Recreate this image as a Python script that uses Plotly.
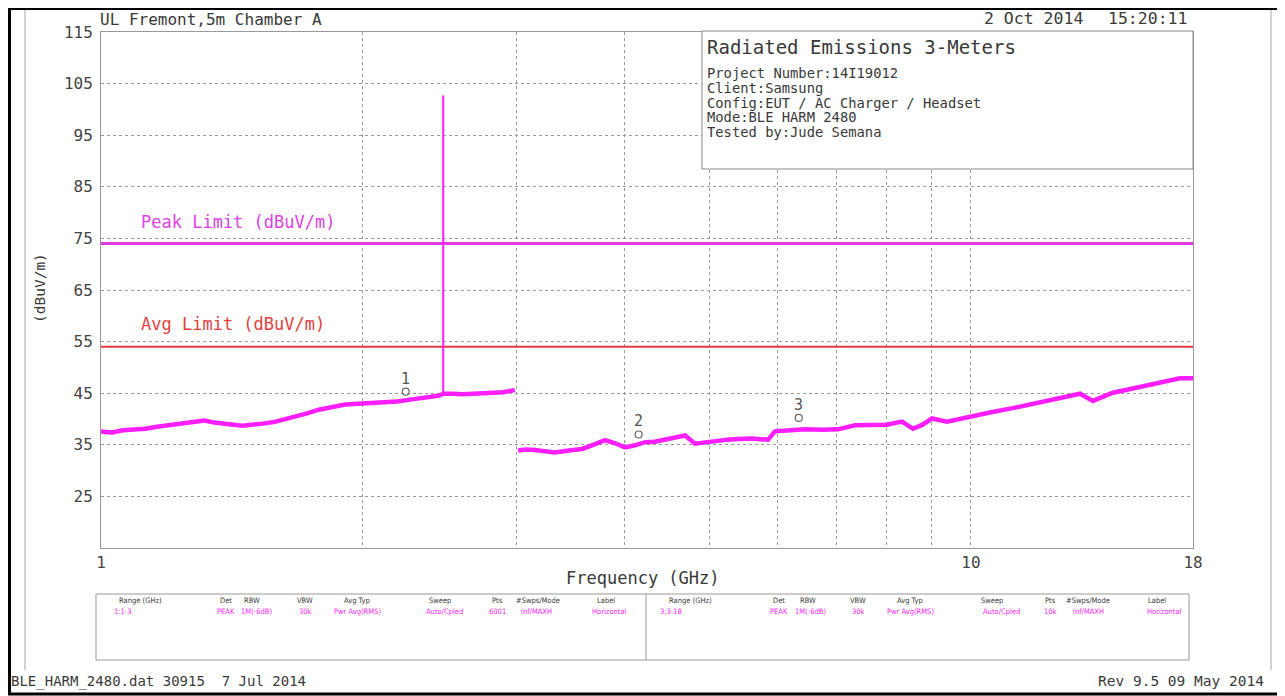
import math
import plotly.graph_objects as go

# ---------------- data ----------------
seg1_freq = [1.000, 1.030, 1.060, 1.090, 1.124, 1.160, 1.200, 1.240, 1.282, 1.315,
             1.350, 1.385, 1.420, 1.455, 1.491, 1.535, 1.580, 1.625, 1.671, 1.725,
             1.780, 1.840, 1.908, 1.995, 2.050, 2.100, 2.190, 2.278, 2.340, 2.400,
             2.440, 2.470, 2.478, 2.540, 2.600, 2.680, 2.750, 2.830, 2.900, 2.990]
seg1_level = [37.6, 37.4, 37.8, 37.9, 38.1, 38.5, 38.8, 39.0, 39.5, 39.7,
              39.3, 39.2, 38.9, 38.7, 38.8, 39.1, 39.4, 39.9, 40.5, 41.1,
              41.8, 42.2, 42.8, 43.0, 43.1, 43.3, 43.4, 43.8, 44.0, 44.3,
              44.5, 44.8, 44.9, 44.9, 44.8, 44.9, 45.0, 45.0, 45.2, 45.6]

spike_freq = [2.474, 2.474]
spike_level = [44.9, 102.7]

seg2_freq = [3.016, 3.080, 3.150, 3.240, 3.325, 3.450, 3.572, 3.680, 3.796, 3.900,
             4.003, 4.110, 4.221, 4.330, 4.450, 4.570, 4.692, 4.818, 4.950, 5.100,
             5.250, 5.398, 5.600, 5.845, 5.954, 6.200, 6.446, 6.750, 7.032, 7.357,
             7.694, 8.000, 8.332, 8.579, 8.800, 9.020, 9.385, 9.970, 10.55, 11.17,
             11.85, 12.56, 13.35, 13.81, 14.56, 15.25, 15.93, 16.65, 17.39, 18.00]
seg2_level = [33.9, 34.1, 34.0, 33.7, 33.5, 33.9, 34.2, 35.0, 35.9, 35.3,
              34.5, 34.9, 35.5, 35.6, 36.0, 36.3, 36.8, 35.2, 35.5, 35.8,
              36.0, 36.1, 36.2, 36.0, 37.6, 37.8, 38.0, 37.9, 38.0, 38.8,
              38.8, 38.9, 39.5, 38.1, 38.9, 40.1, 39.5, 40.5, 41.3, 42.1,
              43.0, 44.1, 44.9, 43.5, 45.1, 45.8, 46.5, 47.0, 47.9, 47.9]

limit_freq = [1, 18]
peak_limit = [74, 74]
avg_limit = [54, 54]

marker_freq = [2.24, 4.15, 6.34]
marker_level = [45.3, 37.0, 40.2]
marker_label = ["1", "2", "3"]

x_tickvals = [1, 2, 3, 4, 5, 6, 7, 8, 9, 10, 18]
x_ticktext = ["1", "", "", "", "", "", "", "", "", "10", "18"]
y_tickvals = [15, 25, 35, 45, 55, 65, 75, 85, 95, 105, 115]
y_ticktext = ["", "25", "35", "45", "55", "65", "75", "85", "95", "105", "115"]

info_title = "Radiated Emissions 3-Meters"
info_lines = ["Project Number:14I19012", "Client:Samsung",
              "Config:EUT / AC Charger / Headset", "Mode:BLE HARM 2480",
              "Tested by:Jude Semana"]

table_headers = ["Range (GHz)", "Det", "RBW", "VBW", "Avg Typ", "Sweep", "Pts",
                 "#Swps/Mode", "Label"]
table_row1 = ["1:1-3", "PEAK", "1M(-6dB)", "30k", "Pwr Avg(RMS)", "Auto/Cpled",
              "6001", "Inf/MAXH", "Horizontal"]
table_row2 = ["3:3-18", "PEAK", "1M(-6dB)", "30k", "Pwr Avg(RMS)", "Auto/Cpled",
              "10k", "Inf/MAXH", "Horizontal"]

# ---------------- layout helpers (reference pixel -> paper) ----------------
PAGE_OFF = 8                     # page body margin added by the browser
W, H = 1285 - PAGE_OFF, 696 - PAGE_OFF
L, R, T, B = 101, 1193, 32, 548  # plot area in reference pixels


def px(x):
    return (x - L) / (R - L)


def py(y):
    return (B - y) / (B - T)


MONO = "DejaVu Sans Mono"
NARROW = "DejaVu Sans Condensed, Liberation Sans Narrow, DejaVu Sans"
TXT = "#3a3a3a"
MAG = "#ff1eff"

fig = go.Figure()

fig.add_trace(go.Scatter(x=limit_freq, y=peak_limit, mode="lines",
                         line=dict(color="#e03ae6", width=3), hoverinfo="skip"))
fig.add_trace(go.Scatter(x=limit_freq, y=avg_limit, mode="lines",
                         line=dict(color="#e63a3a", width=2), hoverinfo="skip"))
fig.add_trace(go.Scatter(x=spike_freq, y=spike_level, mode="lines",
                         line=dict(color=MAG, width=2)))
fig.add_trace(go.Scatter(x=seg1_freq, y=seg1_level, mode="lines",
                         line=dict(color=MAG, width=4.5)))
fig.add_trace(go.Scatter(x=seg2_freq, y=seg2_level, mode="lines",
                         line=dict(color=MAG, width=4.5)))
fig.add_trace(go.Scatter(x=marker_freq, y=marker_level, mode="markers",
                         marker=dict(symbol="circle-open", size=7,
                                     color="#666", line=dict(width=1.2))))

annotations = []


def txt(x, y, s, size, color=TXT, xanchor="left", family=MONO, angle=0):
    annotations.append(dict(x=px(x), y=py(y), xref="paper", yref="paper",
                            text=s, showarrow=False, xanchor=xanchor,
                            yanchor="middle", textangle=angle,
                            font=dict(family=family, size=size, color=color)))


for f, v, lab in zip(marker_freq, marker_level, marker_label):
    annotations.append(dict(x=math.log10(f), y=v, xref="x", yref="y", text=lab,
                            showarrow=False, yshift=13, xanchor="center",
                            yanchor="middle",
                            font=dict(family=MONO, size=15, color="#555")))

# header / footer
txt(98, 20, "UL Fremont,5m Chamber A", 16)
txt(982, 19, "2 Oct 2014", 16.5)
txt(1189, 19, "15:20:11", 16.5, xanchor="right")
txt(9, 681, "BLE_HARM_2480.dat 30915  7 Jul 2014", 14)
txt(1266, 681, "Rev 9.5 09 May 2014", 14.5, xanchor="right")

# axis titles
txt(643, 578, "Frequency (GHz)", 17, xanchor="center")
txt(40, 288, "(dBuV/m)", 14.5, xanchor="center", angle=-90)

# limit labels
txt(139, 222, "Peak Limit (dBuV/m)", 17, color="#e040e6")
txt(139, 324, "Avg Limit (dBuV/m)", 17, color="#e64040")

# info box text
txt(705, 47, info_title, 19)
for i, line in enumerate(info_lines):
    txt(705, 73 + i * 14.8, line, 13.8)

# settings table text
left_hdr_x = [140, 226, 252, 305, 357, 440, 497, 538, 606]
left_val_x = [112, 226, 256, 305, 357, 444, 497, 536, 609]
right_hdr_x = [690, 779, 808, 858, 910, 992, 1050, 1088, 1157]
right_val_x = [658, 779, 810, 858, 910, 1001, 1050, 1088, 1164]
FS = 7.5
for s, x in zip(table_headers, left_hdr_x):
    txt(x, 600, s, FS, xanchor="center", family=NARROW)
for s, x in zip(table_headers, right_hdr_x):
    txt(x, 600, s, FS, xanchor="center", family=NARROW)
for i, (s, x) in enumerate(zip(table_row1, left_val_x)):
    txt(x, 611, s, FS, color=MAG, xanchor="left" if i == 0 else "center", family=NARROW)
for i, (s, x) in enumerate(zip(table_row2, right_val_x)):
    txt(x, 611, s, FS, color=MAG, xanchor="left" if i == 0 else "center", family=NARROW)

shapes = [
    # outer black frame
    dict(type="rect", xref="paper", yref="paper", x0=px(9.5), x1=px(1279),
         y0=py(8.5), y1=py(694), line=dict(color="black", width=3), layer="above"),
    # inner grey side lines
    dict(type="line", xref="paper", yref="paper", x0=px(25), x1=px(25),
         y0=py(10), y1=py(670), line=dict(color="#aaa", width=1)),
    dict(type="line", xref="paper", yref="paper", x0=px(1271), x1=px(1271),
         y0=py(10), y1=py(670), line=dict(color="#aaa", width=1)),
    # info box
    dict(type="rect", xref="paper", yref="paper", x0=px(702), x1=px(1193),
         y0=py(31), y1=py(169), line=dict(color="#888", width=1),
         fillcolor="white", layer="above"),
    # settings table
    dict(type="rect", xref="paper", yref="paper", x0=px(96), x1=px(1189),
         y0=py(594), y1=py(660), line=dict(color="#999", width=1)),
    dict(type="line", xref="paper", yref="paper", x0=px(646), x1=px(646),
         y0=py(594), y1=py(660), line=dict(color="#999", width=1)),
]

fig.update_layout(
    width=W, height=H, autosize=False,
    margin=dict(l=L - PAGE_OFF, r=1285 - R, t=T - PAGE_OFF, b=696 - B, pad=0),
    paper_bgcolor="white", plot_bgcolor="white",
    showlegend=False,
    annotations=annotations, shapes=shapes,
    xaxis=dict(type="log", range=[0, math.log10(18)], tickmode="array",
               tickvals=x_tickvals, ticktext=x_ticktext,
               showgrid=True, gridcolor="#9a9a9a", griddash="dot", gridwidth=1,
               showline=True, linecolor="#999", linewidth=1, mirror=True,
               zeroline=False, ticks="",
               tickfont=dict(family=MONO, size=16, color="#444")),
    yaxis=dict(range=[15, 115], tickmode="array",
               tickvals=y_tickvals, ticktext=y_ticktext,
               showgrid=True, gridcolor="#9a9a9a", griddash="dot", gridwidth=1,
               showline=True, linecolor="#999", linewidth=1, mirror=True,
               zeroline=False, ticks="", ticklabelstandoff=4,
               tickfont=dict(family=MONO, size=16, color="#444")),
)

fig.write_html("out.html")
